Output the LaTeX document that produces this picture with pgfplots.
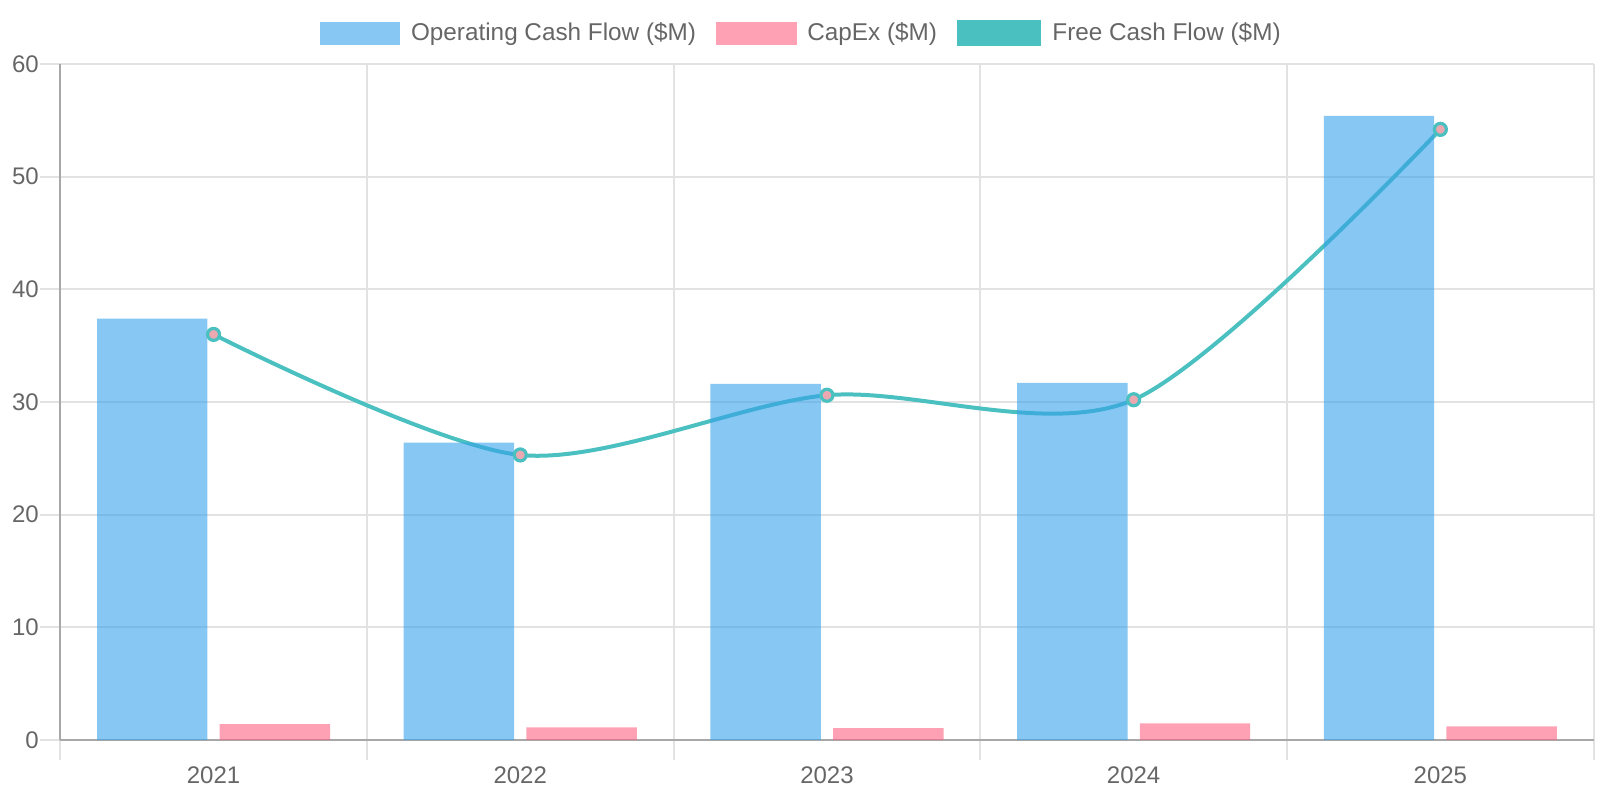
\documentclass[border=0pt]{standalone}
\usepackage{pgfplots}
\pgfplotsset{compat=1.18}
\usepackage{fontspec}
\setmainfont{Liberation Sans}
\definecolor{ocf}{RGB}{54,162,235}
\definecolor{capex}{RGB}{255,99,132}
\definecolor{fcf}{RGB}{75,192,192}
\definecolor{gridc}{RGB}{226,226,226}
\definecolor{axisc}{RGB}{168,168,168}
\definecolor{txt}{RGB}{102,102,102}
\definecolor{markfill}{RGB}{236,168,176}
\newcommand\lab{\fontsize{12}{14.4}\selectfont}
\newcommand\leg{\fontsize{12.15}{14.4}\selectfont}
\begin{document}
\begin{tikzpicture}
\path[use as bounding box] (0,0) rectangle (800pt,400pt);
\begin{axis}[
  at={(30.1pt,30pt)}, anchor=south west,
  scale only axis, width=766.75pt, height=338pt,
  xmin=-0.5, xmax=4.5, ymin=0, ymax=60,
  axis x line*=bottom, axis y line*=left,
  axis line style={draw=axisc, line width=1pt, -},
  xtick={0,1,2,3,4},
  xticklabels={2021,2022,2023,2024,2025},
  minor xtick={-0.5,0.5,...,4.5},
  ytick={0,10,...,60},
  xminorgrids, ymajorgrids,
  grid style={draw=gridc, line width=1pt},
  minor grid style={draw=gridc, line width=1pt},
  tick align=outside,
  major tick length=10pt, minor tick length=10pt,
  every major x tick/.append style={draw=none},
  every minor x tick/.append style={draw=gridc, line width=1pt},
  every major y tick/.append style={draw=gridc, line width=1pt},
  /pgf/number format/assume math mode=true,
  yticklabel style={font=\lab, text=txt, xshift=2.8pt},
  xticklabel style={font=\lab, text=txt},
  legend style={at={(0.5,1)}, anchor=center, xshift=-12.4pt, yshift=15.3pt,
    draw=none, fill=none, font=\leg, text=txt,
    /tikz/every odd column/.append style={column sep=3.5pt},
    /tikz/every even column/.append style={column sep=8pt}},
  legend columns=3,
]
\addplot[fcf, line width=2pt, smooth, mark=*, mark size=3pt,
  mark options={draw=fcf, fill=markfill, line width=1.6pt}, forget plot]
  coordinates {(0,36.0) (1,25.3) (2,30.6) (3,30.2) (4,54.2)};
\addplot[ybar, bar width=0.36, bar shift=-0.2, fill=ocf, fill opacity=0.6, draw=none, forget plot]
  coordinates {(0,37.4) (1,26.4) (2,31.6) (3,31.7) (4,55.4)};
\addplot[ybar, bar width=0.36, bar shift=0.2, fill=capex, fill opacity=0.6, draw=none, forget plot]
  coordinates {(0,1.42) (1,1.13) (2,1.06) (3,1.47) (4,1.22)};
\addlegendimage{legend image code/.code={\fill[ocf!60!white] (0pt,-5.3pt) rectangle (39.8pt,5.3pt);}}
\addlegendentry{Operating Cash Flow (\$M)}
\addlegendimage{legend image code/.code={\fill[capex!60!white] (0pt,-5.3pt) rectangle (39.8pt,5.3pt);}}
\addlegendentry{CapEx (\$M)}
\addlegendimage{legend image code/.code={\filldraw[fill=fcf, draw=fcf, line width=2.4pt] (0pt,-5.3pt) rectangle (39.8pt,5.3pt);}}
\addlegendentry{Free Cash Flow (\$M)}
\end{axis}
\end{tikzpicture}
\end{document}
